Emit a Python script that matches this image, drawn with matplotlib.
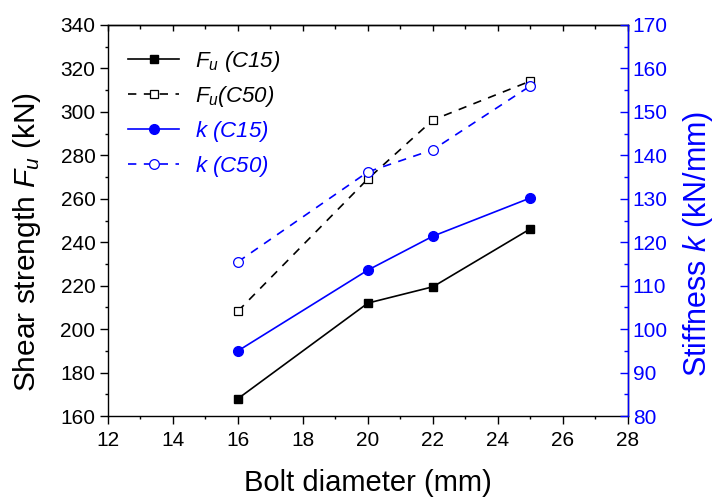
import matplotlib.pyplot as plt
from matplotlib.ticker import MultipleLocator

plt.rcParams['font.family'] = ['Liberation Sans', 'DejaVu Sans']
plt.rcParams['mathtext.fontset'] = 'custom'
plt.rcParams['mathtext.it'] = 'Liberation Sans:italic'
plt.rcParams['mathtext.rm'] = 'Liberation Sans'

# donnees
d = [16, 20, 22, 25]
fu_c15 = [168, 212, 219.5, 246.2]
fu_c50 = [208.3, 269.2, 296.3, 314.2]
k_c15 = [95, 113.6, 121.4, 130.2]
k_c50 = [115.5, 136.2, 141.3, 156]

fig = plt.figure(figsize=(7.18, 4.99), dpi=100)
ax = fig.add_axes([0.1504, 0.1663, 0.7242, 0.7836])
ax2 = ax.twinx()

tiret = (0, (5, 4.5))
l1, = ax.plot(d, fu_c15, '-s', color='k', ms=5.5, lw=1.2, label=r'$F_u$ (C15)')
l2, = ax.plot(d, fu_c50, 's', ls=tiret, color='k', mfc='white', mew=0.9, ms=5.5, lw=1.2,
              label=r'$F_u$(C50)')
l3, = ax2.plot(d, k_c15, '-o', color='blue', ms=7, lw=1.2, label=r'$k$ (C15)')
l4, = ax2.plot(d, k_c50, 'o', ls=tiret, color='blue', mfc='white', mew=0.9, ms=7, lw=1.2,
               label=r'$k$ (C50)')

ax.set_xlim(12, 28)
ax.set_ylim(160, 340)
ax2.set_ylim(80, 170)
ax.xaxis.set_major_locator(MultipleLocator(2))
ax.xaxis.set_minor_locator(MultipleLocator(1))
ax.yaxis.set_major_locator(MultipleLocator(20))
ax.yaxis.set_minor_locator(MultipleLocator(10))
ax2.yaxis.set_major_locator(MultipleLocator(10))
ax2.yaxis.set_minor_locator(MultipleLocator(5))

for s in ax.spines.values():
    s.set_linewidth(1.0)
ax.tick_params(which='both', direction='out', labelsize=15, width=1.0)
ax.tick_params(which='major', length=5.5)
ax.tick_params(which='minor', length=2.5)
ax.tick_params(axis='x', pad=5)
# ticks du haut vers l'interieur
top = ax.secondary_xaxis('top')
top.xaxis.set_major_locator(MultipleLocator(2))
top.xaxis.set_minor_locator(MultipleLocator(1))
top.tick_params(which='both', direction='in', labeltop=False, width=1.0)
top.tick_params(which='major', length=4)
top.tick_params(which='minor', length=3)
top.spines['top'].set_linewidth(1.0)

ax2.tick_params(which='both', direction='in', colors='blue', labelsize=15, width=1.0)
ax2.tick_params(which='major', length=6)
ax2.tick_params(which='minor', length=3)
ax2.spines['right'].set_color('blue')
ax2.spines['right'].set_linewidth(1.0)
ax2.spines['left'].set_visible(False)
ax2.spines['top'].set_visible(False)
ax2.spines['bottom'].set_visible(False)

ax.set_xlabel('Bolt diameter (mm)', fontsize=21, labelpad=14)
ax.set_ylabel(r'Shear strength $F_u$ (kN)', fontsize=21.5)
ax2.set_ylabel(r'Stiffness $k$ (kN/mm)', fontsize=22, color='blue')
ax.yaxis.set_label_coords(-0.125, 0.4437)
ax2.yaxis.set_label_coords(1.102, 0.441)

leg = ax.legend(handles=[l1, l2, l3, l4], loc='upper left', frameon=False,
                fontsize=16, handlelength=2.3, handletextpad=0.7, labelspacing=0.45,
                bbox_to_anchor=(0.0, 0.99))
for t, c in zip(leg.get_texts(), ['k', 'k', 'blue', 'blue']):
    t.set_color(c)
    t.set_fontstyle('italic')

fig.savefig('out.png', dpi=100)
